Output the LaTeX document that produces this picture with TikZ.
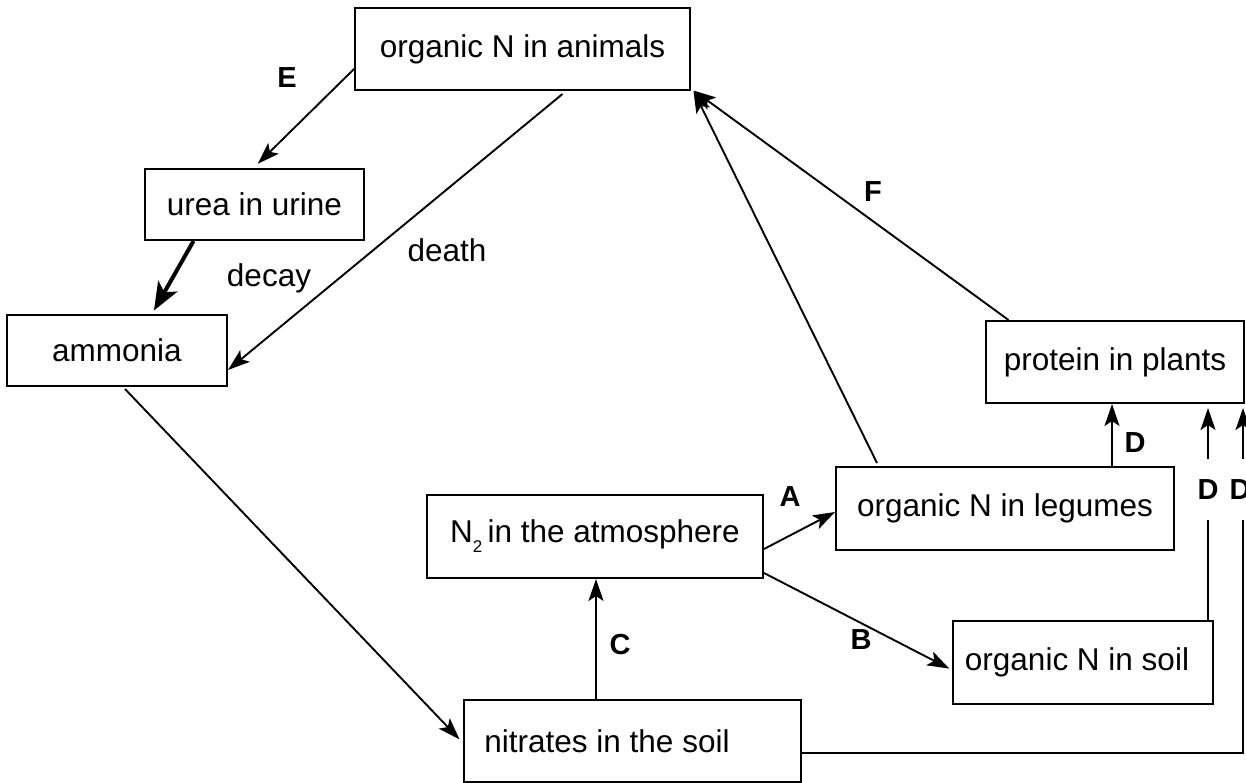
\documentclass[tikz,border=0pt]{standalone}
\usepackage{fontspec}
\setmainfont{Liberation Sans}
\usetikzlibrary{arrows.meta}
\begin{document}
\begin{tikzpicture}[x=1pt,y=-1pt,
  box/.style={draw, line width=2pt, rectangle, inner sep=0pt, align=center, font=\fontsize{31.5}{36}\selectfont},
  conn/.style={line width=1.9pt},
  arr/.style={conn, -{Stealth[length=22pt,width=15pt,inset=5pt]}},
  thickarr/.style={line width=4pt, -{Stealth[length=28pt,width=22pt,inset=7pt]}},
  lab/.style={font=\fontsize{29}{32}\selectfont\bfseries, inner sep=0pt},
  txt/.style={font=\fontsize{31.5}{36}\selectfont, inner sep=0pt}]
\useasboundingbox (0,0) rectangle (1246,783);

% boxes
\node[box, minimum width=335pt, minimum height=82pt] (animals) at (522.5,49) {organic N in animals};
\node[box, minimum width=219pt, minimum height=71pt] (urea) at (254.5,204.5) {urea in urine};
\node[box, minimum width=220pt, minimum height=71pt] (ammonia) at (117,350.5) {ammonia};
\node[box, minimum width=258pt, minimum height=82pt] (protein) at (1115,362) {protein in plants};
\node[box, minimum width=338pt, minimum height=83pt] (legumes) at (1005,508.5) {organic N in legumes};
\node[box, minimum width=336pt, minimum height=83pt] (atmo) at (595,536.5) {N\raisebox{-0.32em}{\fontsize{17}{17}\selectfont 2}\,in the atmosphere};
\node[box, minimum width=260pt, minimum height=83pt] (soil) at (1083,662.5) {organic N in soil\hspace*{12pt}};
\node[box, minimum width=337pt, minimum height=82pt] (nitrates) at (632.5,741) {nitrates in the soil\hspace*{51pt}};

% labels
\node[lab] (lE) at (287,78) {E};
\node[lab] (lF) at (873,192) {F};
\node[lab] (lA) at (790,497) {A};
\node[lab] (lB) at (861,640) {B};
\node[lab] (lC) at (620,645) {C};
\node[lab] (lD1) at (1135,443) {D};
\node[lab, minimum height=61pt] (lD2) at (1208,489.5) {D};
\node[lab, minimum height=61pt] (lD3) at (1240,489.5) {D};
\node[txt] (tdecay) at (269,278) {decay};
\node[txt] (tdeath) at (447,250) {death};

\coordinate (d3top) at ([xshift=3pt]lD3.north);
\coordinate (d3bot) at ([xshift=3pt]lD3.south);

% connectors
\draw[arr, shorten >=6pt] ([yshift=-20pt]animals.west) -- ([xshift=-1pt]urea.north);
\draw[thickarr, shorten >=4pt] ([xshift=-61pt]urea.south) -- ([xshift=35pt]ammonia.north);
\draw[arr] ([xshift=40pt,yshift=-3pt]animals.south) -- ([yshift=-19.5pt]ammonia.east);
\draw[arr, shorten >=5pt] ([xshift=8pt,yshift=-2pt]ammonia.south) -- ([yshift=-2pt]nitrates.west);
\draw[arr] ([xshift=-36.5pt]nitrates.north) -- ([xshift=1pt]atmo.south);
\draw[arr] ([yshift=-12.5pt]atmo.east) -- ([yshift=-3.5pt]legumes.west);
\draw[arr, shorten >=3pt] ([yshift=-36.5pt]atmo.east) -- ([yshift=-7.5pt]soil.west);
\draw[arr, shorten >=1pt] ([xshift=-128pt,yshift=3pt]legumes.north) -- ([xshift=2pt,yshift=1pt]animals.south east);
\draw[arr, shorten >=1pt] ([xshift=-106.5pt]protein.north) -- ([xshift=2pt,yshift=1pt]animals.south east);
\draw[arr] ([xshift=107pt]legumes.north) -- ([xshift=-3pt]protein.south);
\draw[conn] (soil.north -| lD2.south) -- (lD2.south);
\draw[arr, shorten >=4pt] (lD2.north) -- (protein.south -| lD2.north);
\draw[conn] ([yshift=-12pt]nitrates.east) -| (d3bot);
\draw[arr, shorten >=4pt] (d3top) -- (d3top |- protein.south);
\end{tikzpicture}
\end{document}
